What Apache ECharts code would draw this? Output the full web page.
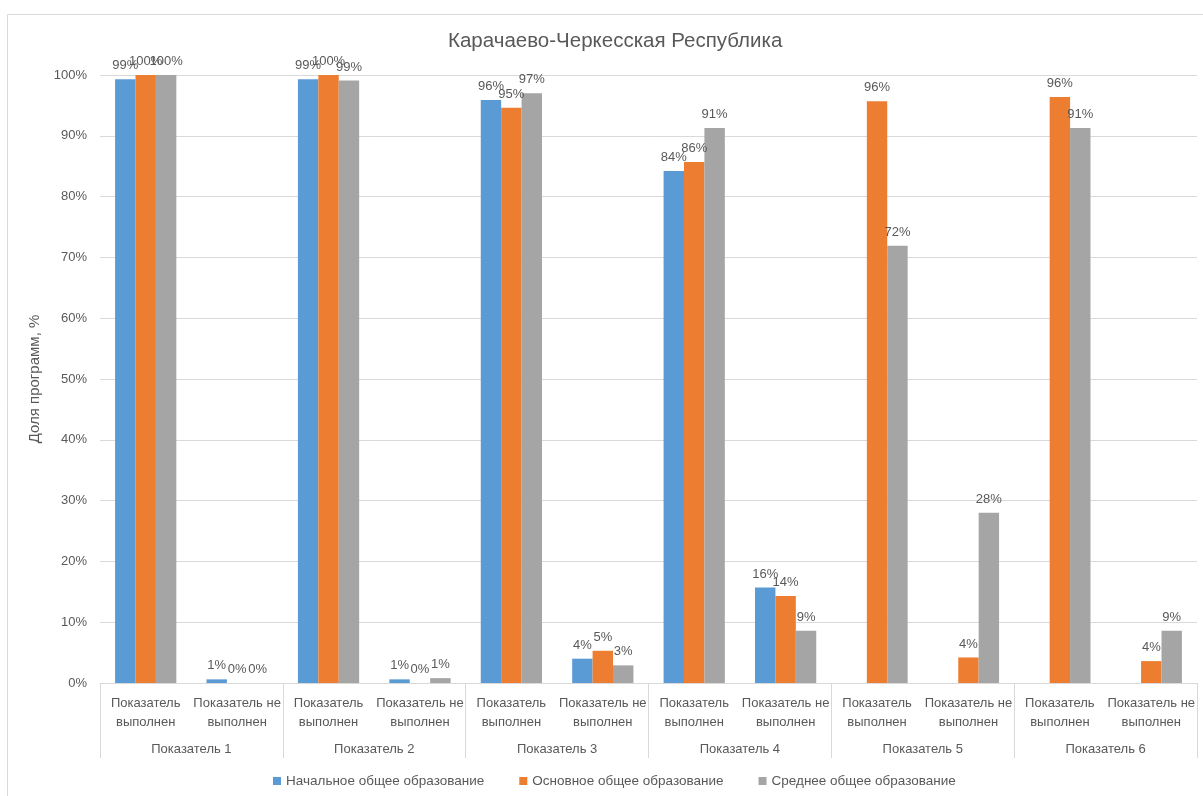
<!DOCTYPE html>
<html>
<head>
<meta charset="utf-8">
<script src="https://cdn.jsdelivr.net/npm/echarts@6/dist/echarts.min.js"></script>
<style>
html,body{margin:0;padding:0;background:#fff;}
#chart{width:1203px;height:796px;}
</style>
</head>
<body>
<div id="chart"></div>
<script>
var title = 'Карачаево-Черкесская Республика';
var yAxisName = 'Доля программ, %';
var subCategories = ['Показатель\nвыполнен','Показатель не\nвыполнен','Показатель\nвыполнен','Показатель не\nвыполнен','Показатель\nвыполнен','Показатель не\nвыполнен','Показатель\nвыполнен','Показатель не\nвыполнен','Показатель\nвыполнен','Показатель не\nвыполнен','Показатель\nвыполнен','Показатель не\nвыполнен'];
var groups = ['Показатель 1','Показатель 2','Показатель 3','Показатель 4','Показатель 5','Показатель 6'];
var seriesNames = ['Начальное общее образование','Основное общее образование','Среднее общее образование'];
var primary = [99.3, 0.6, 99.3, 0.6, 95.9, 4.0, 84.2, 15.7, null, null, null, null];
var basic = [100, 0, 100, 0, 94.6, 5.3, 85.7, 14.3, 95.7, 4.2, 96.4, 3.6];
var secondary = [100, 0, 99.1, 0.8, 97.0, 2.9, 91.3, 8.6, 71.9, 28.0, 91.3, 8.6];
var colors = ['#5B9BD5','#ED7D31','#A5A5A5'];

var FONT = 'Liberation Sans';
var TXT = '#595959';
var chart = echarts.init(document.getElementById('chart'));
function mk(name, data, color){
  return {
    name: name, type: 'bar', data: data, xAxisIndex: 0,
    barGap: '0%', barCategoryGap: '33%',
    itemStyle: {color: color},
    label: {show: true, position: 'top', distance: 7, color: TXT, fontSize: 13, fontFamily: FONT,
      formatter: function(p){ return Math.round(p.value) + '%'; }}
  };
}
chart.setOption({
  animation: false,
  textStyle: {fontFamily: FONT},
  graphic: [{type: 'rect', shape: {x: 7.5, y: 14.5, width: 1400, height: 1000}, style: {fill: 'none', stroke: '#d9d9d9', lineWidth: 1}, silent: true}],
  title: {text: title, left: 443, top: 26, textStyle: {fontFamily: FONT, fontSize: 20.5, fontWeight: 'normal', color: TXT}},
  legend: {bottom: 3, left: 268, itemWidth: 8, itemHeight: 8, itemGap: 35, icon: 'rect',
    textStyle: {color: TXT, fontSize: 13.5, fontFamily: FONT}, data: seriesNames},
  grid: {left: 100, right: 6, top: 75, bottom: 113, containLabel: false},
  xAxis: [
    {type: 'category', data: subCategories, position: 'bottom',
     axisLine: {show: true, lineStyle: {color: '#d9d9d9'}}, axisTick: {show: false},
     axisLabel: {interval: 0, margin: 11, color: TXT, fontSize: 13, lineHeight: 19, fontFamily: FONT}},
    {type: 'category', data: groups, position: 'bottom', gridIndex: 0,
     axisLine: {show: false}, axisTick: {show: true, length: 75, interval: 0, lineStyle: {color: '#d9d9d9'}},
     axisLabel: {interval: 0, margin: 60, color: TXT, fontSize: 13, fontFamily: FONT}}
  ],
  yAxis: {type: 'value', min: 0, max: 100, interval: 10,
    name: yAxisName, nameLocation: 'middle', nameGap: 52, nameRotate: 90,
    nameTextStyle: {color: TXT, fontSize: 15, fontFamily: FONT},
    axisLine: {show: false}, axisTick: {show: false},
    axisLabel: {margin: 13, color: TXT, fontSize: 13, fontFamily: FONT, formatter: '{value}%'},
    splitLine: {lineStyle: {color: '#d9d9d9'}}},
  series: [mk(seriesNames[0], primary, colors[0]), mk(seriesNames[1], basic, colors[1]), mk(seriesNames[2], secondary, colors[2])]
});
</script>
</body>
</html>
